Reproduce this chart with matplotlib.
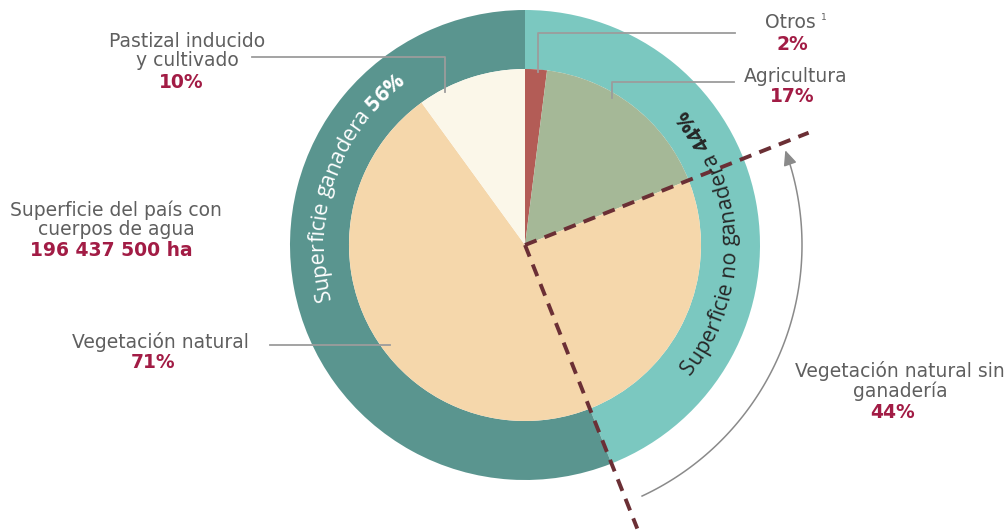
import numpy as np
import matplotlib.pyplot as plt
from matplotlib.font_manager import FontProperties

# uso del suelo (anillo interior), en sentido horario desde las 12
uso = ['Otros', 'Agricultura', 'Vegetación natural', 'Pastizal inducido\ny cultivado']
uso_pct = [2, 17, 71, 10]
uso_colores = ['#b35c56', '#a5b897', '#f5d7ab', '#fbf7e9']

# superficie ganadera (anillo exterior)
ganadera = ['Superficie no ganadera', 'Superficie ganadera']
ganadera_pct = [44, 56]
ganadera_colores = ['#7bc8c0', '#5a958f']

veg_sin_ganaderia_pct = 44
superficie_total = '196 437 500 ha'

W, H = 1008, 531
cx, cy = 525, 286
R_ext, R_int = 235, 176

gris = '#5f5f5f'
guinda = '#a21c45'
linea = '#9c9c9c'
fuente = 'DejaVu Sans'

fig = plt.figure(figsize=(W / 100, H / 100), dpi=100)
ax = fig.add_axes([0, 0, 1, 1])

ax.pie(ganadera_pct, radius=R_ext, center=(cx, cy), startangle=90, counterclock=False,
       colors=ganadera_colores, wedgeprops=dict(width=R_ext - R_int, linewidth=0), frame=True)
ax.pie(uso_pct, radius=R_int, center=(cx, cy), startangle=90, counterclock=False,
       colors=uso_colores, wedgeprops=dict(linewidth=0), frame=True)

ax.set_xlim(0, W)
ax.set_ylim(0, H)
ax.set_aspect('equal')
ax.axis('off')


def punto(theta, r):
    # theta en grados, horario desde las 12
    t = np.radians(theta)
    return cx + r * np.sin(t), cy + r * np.cos(t)


# líneas punteadas que delimitan la vegetación natural sin ganadería
for pct in [sum(uso_pct[:2]), ganadera_pct[0]]:
    x1, y1 = punto(360 * pct / 100, 305)
    ax.plot([cx, x1], [cy, y1], color='#6b2f35', lw=2.8, ls=(0, (3.2, 2.2)),
            solid_capstyle='butt', dash_capstyle='butt', zorder=5)

# flecha curva
th = np.linspace(155, 72, 100)
xa, ya = punto(th, 277)
ax.plot(xa, ya, color='#8a8a8a', lw=1.1)
xt, yt = punto(70, 277)
ax.annotate('', xy=(xt, yt), xytext=(xa[-1], ya[-1]),
            arrowprops=dict(arrowstyle='-|>,head_length=0.9,head_width=0.4',
                            color='#8a8a8a', lw=1.1, shrinkA=0, shrinkB=0))

# líneas guía
guias = [
    ([252, 445, 445], [474, 474, 439]),
    ([735, 538, 538], [498, 498, 459]),
    ([734, 612, 612], [449, 449, 433]),
    ([270, 390], [186, 186]),
]
for xs, ys in guias:
    ax.plot(xs, ys, color=linea, lw=1.3, zorder=6)

kw = dict(family=fuente, fontsize=13.5, color=gris, ha='center', va='center',
          linespacing=1.0)
kwb = dict(family=fuente, fontsize=13.5, color=guinda, ha='center', va='center',
           fontweight='bold')

ax.text(187, 480, uso[3], **kw)
ax.text(181, 449, f'{uso_pct[3]}%', **kwb)
ax.text(790, 508, uso[0], **kw)
ax.text(824, 514, '1', family=fuente, fontsize=6.5, color=gris, ha='center', va='center')
ax.text(792, 487, f'{uso_pct[0]}%', **kwb)
ax.text(796, 455, uso[1], **kw)
ax.text(792, 434, f'{uso_pct[1]}%', **kwb)
ax.text(160, 189, uso[2], **kw)
ax.text(153, 168, f'{uso_pct[2]}%', **kwb)
ax.text(116, 311, 'Superficie del país con\ncuerpos de agua', **kw)
ax.text(111, 280, superficie_total, **kwb)
ax.text(900, 150, 'Vegetación natural sin\nganadería', **kw)
ax.text(893, 119, f'{veg_sin_ganaderia_pct}%', **kwb)

renderer = fig.canvas.get_renderer()


def ancho(ch, prop):
    w1, _, _ = renderer.get_text_width_height_descent('|' + ch + '|', prop, ismath=False)
    w0, _, _ = renderer.get_text_width_height_descent('||', prop, ismath=False)
    return w1 - w0


def texto_curvo(partes, r, centro, horario, color):
    chars = []
    for s, peso in partes:
        prop = FontProperties(family='Open Sans', weight=peso, size=15.5)
        for ch in s:
            chars.append((ch, prop, ancho(ch, prop)))
    total = sum(c[2] for c in chars)
    signo = 1 if horario else -1
    theta = centro - signo * np.degrees(total / 2 / r)
    for ch, prop, w in chars:
        t = theta + signo * np.degrees(w / 2 / r)
        x, y = punto(t, r)
        rot = -t if horario else 180 - t
        ax.text(x, y, ch, fontproperties=prop, color=color, rotation=rot,
                rotation_mode='anchor', ha='center', va='center', zorder=7)
        theta += signo * np.degrees(w / r)


texto_curvo([('Superficie ganadera ', 'normal'), (f'{ganadera_pct[1]}%', 'bold')],
            207, 289, True, 'white')
texto_curvo([('Superficie no ganadera ', 'normal'), (f'{ganadera_pct[0]}%', 'bold')],
            205, 89, False, '#262626')

fig.savefig('out.png', dpi=100)
